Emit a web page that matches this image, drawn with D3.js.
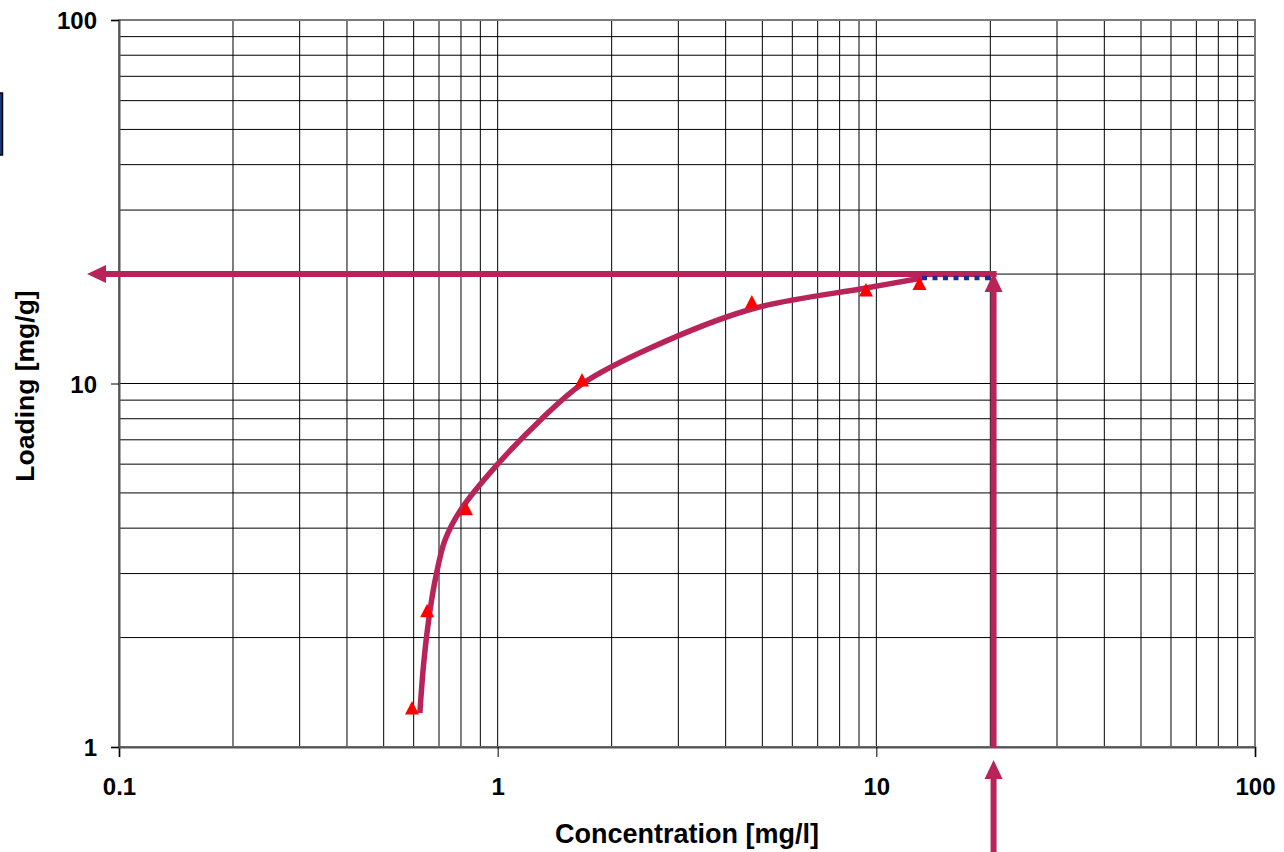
<!DOCTYPE html>
<html><head><meta charset="utf-8">
<script src="https://cdn.jsdelivr.net/npm/d3@7"></script>
<style>html,body{margin:0;padding:0;background:#fff;}svg{display:block;}</style>
</head><body>
<svg id="chart" width="1284" height="852"></svg>
<script>
// ---- data ----
const xTickValues = [0.1, 1, 10, 100];
const xTickLabels = ["0.1", "1", "10", "100"];
const yTickValues = [1, 10, 100];
const yTickLabels = ["1", "10", "100"];
const measuredC = [0.594, 0.651, 0.825, 1.67, 4.69, 9.39, 13.0];
const measuredQ = [1.28, 2.37, 4.52, 10.22, 16.76, 18.08, 18.84];
const fitC = [0.623, 0.639, 0.663, 0.688, 0.726, 0.800, 0.996, 1.29, 1.67, 2.53, 4.69, 9.39, 13.2];
const fitQ = [1.24, 1.735, 2.38, 2.97, 3.71, 4.50, 5.97, 7.89, 9.97, 12.52, 16.03, 18.31, 19.5];
const dottedC = [13.2, 20.4];
const dottedQ = [19.5, 19.5];
const targetC = 20.4;
const targetQ = 20.0;
const xTitle = "Concentration [mg/l]";
const yTitle = "Loading [mg/g]";

// ---- layout ----
const L = 119, R = 1255, T = 20, B = 747;
const svg = d3.select("#chart");
const x = d3.scaleLog().domain([0.1, 100]).range([L, R]);
const y = d3.scaleLog().domain([1, 100]).range([B, T]);
const col = "#b8245a";
const font = "'Liberation Sans', Arial, sans-serif";

// partial legend box at far left
svg.append("rect").attr("x", -10).attr("y", 93).attr("width", 12.5).attr("height", 62)
  .attr("fill", "#163a80").attr("stroke", "#000").attr("stroke-width", 1.5);

// grid
const minor = [];
for (let d = 0.1; d < 100; d *= 10) for (let k = 2; k <= 9; k++) minor.push(+(d * k).toPrecision(3));
const minorY = minor.filter(v => v > 1 && v < 100);
const grid = svg.append("g");
grid.selectAll("line.v").data(minor.concat([1, 10])).join("line")
  .attr("x1", d => x(d)).attr("x2", d => x(d)).attr("y1", T).attr("y2", B)
  .attr("stroke", "#000").attr("stroke-width", 1);
grid.selectAll("line.h").data(minorY.concat([10])).join("line")
  .attr("y1", d => y(d)).attr("y2", d => y(d)).attr("x1", L).attr("x2", R)
  .attr("stroke", "#000").attr("stroke-width", 1);

// frame
svg.append("rect").attr("x", L).attr("y", T).attr("width", R - L).attr("height", B - T)
  .attr("fill", "none").attr("stroke", "#7a7a7a").attr("stroke-width", 2);

// axes
const xAxis = d3.axisBottom(x).tickValues(xTickValues).tickSize(10).tickFormat((d, i) => xTickLabels[i]);
const gx = svg.append("g").attr("transform", `translate(0,${B})`).call(xAxis);
gx.select(".domain").attr("stroke", "#555").attr("stroke-width", 2);
gx.selectAll(".tick line").attr("stroke", "#000");
gx.selectAll(".tick text").attr("font-family", font).attr("font-weight", "bold")
  .attr("font-size", 24).attr("fill", "#000").attr("y", 0).attr("dy", 48);

const yAxis = d3.axisLeft(y).tickValues(yTickValues).tickSize(8).tickFormat((d, i) => yTickLabels[i]);
const gy = svg.append("g").attr("transform", `translate(${L},0)`).call(yAxis);
gy.select(".domain").attr("stroke", "#555").attr("stroke-width", 2);
gy.selectAll(".tick line").attr("stroke", "#000");
gy.selectAll(".tick text").attr("font-family", font).attr("font-weight", "bold")
  .attr("font-size", 24).attr("fill", "#000").attr("x", -22).attr("dy", "0.36em");

// titles
svg.append("text").attr("x", 687).attr("y", 843).attr("text-anchor", "middle")
  .attr("font-family", font).attr("font-weight", "bold").attr("font-size", 27).text(xTitle);
svg.append("text").attr("transform", `translate(34,386) rotate(-90)`).attr("text-anchor", "middle")
  .attr("font-family", font).attr("font-weight", "bold").attr("font-size", 26.5).text(yTitle);

// arrows
function arrowPath(x1, y1, x2, y2) {
  const dx = x2 - x1, dy = y2 - y1, len = Math.hypot(dx, dy);
  const ux = dx / len, uy = dy / len;
  const hl = 19, hw = 9;
  const bx = x2 - ux * hl, by = y2 - uy * hl;
  svg.append("line").attr("x1", x1).attr("y1", y1).attr("x2", bx + ux * 2).attr("y2", by + uy * 2)
    .attr("stroke", col).attr("stroke-width", 6);
  svg.append("path").attr("d", `M${x2},${y2}L${bx - uy * hw},${by + ux * hw}L${bx + uy * hw},${by - ux * hw}Z`)
    .attr("fill", col);
}
arrowPath(x(targetC) + 3, y(targetQ), 87, y(targetQ));
arrowPath(x(targetC), B, x(targetC), y(targetQ) - 1);
arrowPath(x(targetC), 852, x(targetC), 760);

// fitted curve
const line = d3.line().x(d => x(d)).y((d, i) => y(fitQ[i])).curve(d3.curveCatmullRom.alpha(0.5));
svg.append("path").attr("d", line(fitC)).attr("fill", "none").attr("stroke", col)
  .attr("stroke-width", 5.5).attr("stroke-linejoin", "round");

// dotted extension
svg.append("line").attr("x1", x(dottedC[0])).attr("x2", x(dottedC[1]))
  .attr("y1", y(dottedQ[0])).attr("y2", y(dottedQ[1]))
  .attr("stroke", "#1c2a9a").attr("stroke-width", 4.5).attr("stroke-dasharray", "5,5.5");

// measured points
svg.append("g").selectAll("path").data(measuredC).join("path")
  .attr("transform", (d, i) => `translate(${x(d)},${y(measuredQ[i])})`)
  .attr("d", "M0,-7L7,6.5L-7,6.5Z").attr("fill", "#ff0000");
</script>
</body></html>
